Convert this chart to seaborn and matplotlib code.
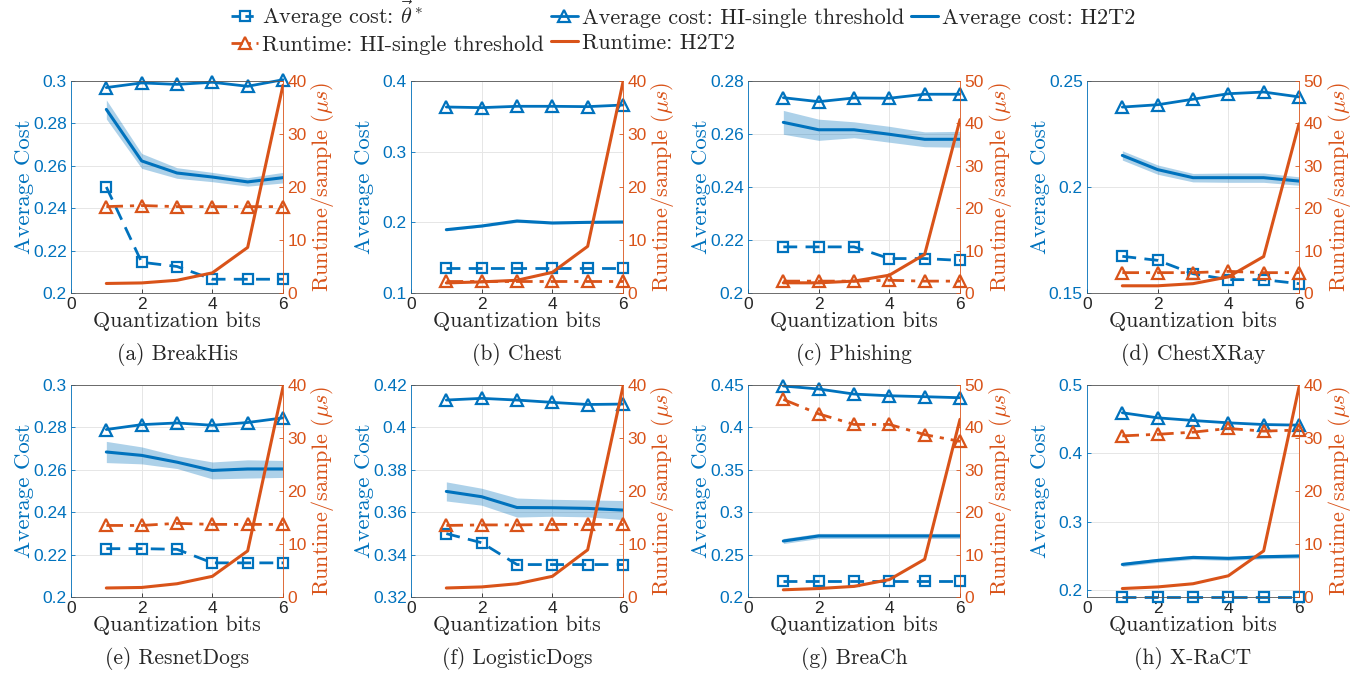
import matplotlib
matplotlib.use('Agg')
import matplotlib.pyplot as plt
import seaborn as sns
import numpy as np
from matplotlib.lines import Line2D
from matplotlib.ticker import FuncFormatter

# Quantization bits on the x axis
bits = [1, 2, 3, 4, 5, 6]

captions = ['(a) BreakHis', '(b) Chest', '(c) Phishing', '(d) ChestXRay',
            '(e) ResnetDogs', '(f) LogisticDogs', '(g) BreaCh', '(h) X-RaCT']

# Average cost with theta* (dashed, squares)
theta_cost = [
    [0.250, 0.2145, 0.2125, 0.2065, 0.2065, 0.2065],
    [0.136, 0.136, 0.136, 0.136, 0.136, 0.136],
    [0.2174, 0.2174, 0.2174, 0.213, 0.213, 0.2123],
    [0.1673, 0.1654, 0.1591, 0.1563, 0.1563, 0.1544],
    [0.2228, 0.2228, 0.2225, 0.2161, 0.2161, 0.2161],
    [0.3499, 0.3456, 0.3353, 0.3353, 0.3353, 0.3353],
    [0.2194, 0.2194, 0.2194, 0.2194, 0.2194, 0.2194],
    [0.1895, 0.1895, 0.1895, 0.1895, 0.1895, 0.1895],
]

# Average cost, HI-single threshold (solid, triangles)
hi_cost = [
    [0.2969, 0.2991, 0.2984, 0.2994, 0.2975, 0.3006],
    [0.3632, 0.3623, 0.3642, 0.3642, 0.3637, 0.366],
    [0.2737, 0.2722, 0.2736, 0.2735, 0.275, 0.275],
    [0.2377, 0.2388, 0.2414, 0.244, 0.2448, 0.2425],
    [0.279, 0.2813, 0.2821, 0.281, 0.2823, 0.2845],
    [0.4129, 0.4137, 0.4129, 0.4118, 0.4108, 0.411],
    [0.4488, 0.4453, 0.4393, 0.4373, 0.4362, 0.435],
    [0.4594, 0.452, 0.4481, 0.4447, 0.4422, 0.4413],
]

# Average cost, H2T2 (solid) and half-width of its shaded band
h2t2_cost = [
    [0.2866, 0.2623, 0.2566, 0.2547, 0.2524, 0.2544],
    [0.1896, 0.1948, 0.2019, 0.1991, 0.2000, 0.2005],
    [0.2644, 0.2616, 0.2616, 0.2599, 0.2580, 0.2580],
    [0.2149, 0.2082, 0.2044, 0.2044, 0.2044, 0.2028],
    [0.2684, 0.2668, 0.2636, 0.2597, 0.2604, 0.2604],
    [0.3698, 0.3673, 0.3622, 0.3621, 0.3618, 0.3610],
    [0.2660, 0.2720, 0.2720, 0.2720, 0.2720, 0.2720],
    [0.2376, 0.2435, 0.2479, 0.2465, 0.2489, 0.2499],
]
h2t2_band = [
    [0.0045, 0.0035, 0.0025, 0.0022, 0.0020, 0.0025],
    [0.0015, 0.0015, 0.0020, 0.0015, 0.0015, 0.0020],
    [0.0045, 0.0040, 0.0030, 0.0030, 0.0028, 0.0030],
    [0.0022, 0.0022, 0.0020, 0.0022, 0.0022, 0.0020],
    [0.0050, 0.0040, 0.0030, 0.0040, 0.0043, 0.0040],
    [0.0045, 0.0040, 0.0045, 0.0040, 0.0040, 0.0045],
    [0.0030, 0.0030, 0.0030, 0.0030, 0.0030, 0.0030],
    [0.0030, 0.0030, 0.0030, 0.0030, 0.0030, 0.0030],
]

# Runtime per sample (micro-seconds), right axis
hi_runtime = [
    [16.3, 16.5, 16.3, 16.3, 16.3, 16.3],
    [2.2, 2.2, 2.2, 2.2, 2.2, 2.2],
    [2.8, 2.8, 2.8, 3.0, 2.8, 2.8],
    [4.8, 4.8, 4.8, 5.1, 4.8, 4.8],
    [13.5, 13.5, 13.9, 13.7, 13.7, 13.7],
    [13.5, 13.6, 13.6, 13.7, 13.7, 13.7],
    [46.6, 43.2, 40.7, 40.7, 38.3, 36.7],
    [30.4, 30.7, 31.1, 31.8, 31.3, 31.5],
]
h2t2_runtime = [
    [1.8, 1.9, 2.4, 3.8, 8.6, 39.2],
    [1.9, 2.1, 2.4, 3.9, 8.8, 39.8],
    [2.4, 2.4, 2.8, 4.2, 9.1, 40.9],
    [1.7, 1.7, 2.2, 3.8, 8.6, 39.9],
    [1.7, 1.8, 2.5, 3.9, 8.7, 39.6],
    [1.7, 1.9, 2.5, 3.9, 8.9, 39.7],
    [1.7, 2.0, 2.5, 4.1, 8.9, 41.9],
    [1.6, 1.9, 2.5, 4.0, 8.7, 39.6],
]

# Axis ranges
cost_ylim = [(0.2, 0.3), (0.1, 0.4), (0.2, 0.28), (0.15, 0.25),
             (0.2, 0.3), (0.32, 0.42), (0.2, 0.45), (0.19, 0.5)]
cost_ticks = [[0.2, 0.22, 0.24, 0.26, 0.28, 0.3],
              [0.1, 0.2, 0.3, 0.4],
              [0.2, 0.22, 0.24, 0.26, 0.28],
              [0.15, 0.2, 0.25],
              [0.2, 0.22, 0.24, 0.26, 0.28, 0.3],
              [0.32, 0.34, 0.36, 0.38, 0.4, 0.42],
              [0.2, 0.25, 0.3, 0.35, 0.4, 0.45],
              [0.2, 0.3, 0.4, 0.5]]
runtime_max = [40, 40, 50, 50, 40, 40, 50, 40]

BLUE = '#0072BD'
ORANGE = '#D95319'
TICKFONT = 'Liberation Sans'

sns.set_theme(style='white')
plt.rcParams['font.family'] = ['cmr10', 'DejaVu Serif']
plt.rcParams['mathtext.fontset'] = 'cm'
plt.rcParams['axes.unicode_minus'] = False

W, H = 1367, 677
fig = plt.figure(figsize=(W / 100, H / 100), dpi=100)
lefts = [71, 411, 748, 1087]
tops = [81, 385]
size = 212

fmt = FuncFormatter(lambda v, p: '%g' % round(v, 4))

for i in range(8):
    r, c = divmod(i, 4)
    ax = fig.add_axes([lefts[c] / W, 1 - (tops[r] + size) / H, size / W, size / H])

    lo = np.array(h2t2_cost[i]) - np.array(h2t2_band[i])
    hi = np.array(h2t2_cost[i]) + np.array(h2t2_band[i])
    ax.fill_between(bits, lo, hi, color=BLUE, alpha=0.32, linewidth=0)
    sns.lineplot(x=bits, y=h2t2_cost[i], ax=ax, color=BLUE, linewidth=2.2)
    sns.lineplot(x=bits, y=hi_cost[i], ax=ax, color=BLUE, linewidth=2,
                 marker='^', markersize=8, markerfacecolor='none',
                 markeredgecolor=BLUE, markeredgewidth=1.6, clip_on=False)
    sns.lineplot(x=bits, y=theta_cost[i], ax=ax, color=BLUE, linewidth=2,
                 linestyle=(0, (5, 3)), marker='s', markersize=6.5,
                 markerfacecolor='none', markeredgecolor=BLUE,
                 markeredgewidth=1.6, clip_on=False)

    ax.set_xlim(0, 6)
    ax.set_xticks([0, 2, 4, 6])
    ax.set_ylim(*cost_ylim[i])
    ax.set_yticks(cost_ticks[i])
    ax.yaxis.set_major_formatter(fmt)
    ax.grid(True, color='#e6e6e6', linewidth=0.7)
    ax.set_axisbelow(True)
    ax.tick_params(axis='x', bottom=True, direction='in', length=3, width=0.6,
                   labelsize=12.5, labelcolor='#262626', labelfontfamily=TICKFONT, pad=3)
    ax.tick_params(axis='y', left=True, direction='in', length=3, width=0.6,
                   color=BLUE, labelsize=12.5, labelcolor=BLUE,
                   labelfontfamily=TICKFONT, pad=3)
    ax.spines['left'].set_color(BLUE)
    ax.spines['right'].set_visible(False)
    for s in ['top', 'bottom']:
        ax.spines[s].set_color('#555555')
    for s in ax.spines.values():
        s.set_linewidth(0.6)

    ax.set_xlabel('Quantization bits', fontsize=15.8, color='#262626')
    ax.xaxis.set_label_coords(0.5, -0.088)
    ax.set_ylabel('Average Cost', fontsize=16.5, color=BLUE)
    ax.yaxis.set_label_coords(-0.175, 0.5)
    ax.text(0.5, -0.235, captions[i], transform=ax.transAxes, ha='center',
            va='top', fontsize=15.5, color='#262626')

    ax2 = ax.twinx()
    sns.lineplot(x=bits, y=hi_runtime[i], ax=ax2, color=ORANGE, linewidth=2,
                 linestyle=(0, (6, 2.5, 1.5, 2.5)), marker='^', markersize=8,
                 markerfacecolor='none', markeredgecolor=ORANGE,
                 markeredgewidth=1.6, clip_on=False)
    sns.lineplot(x=bits, y=h2t2_runtime[i], ax=ax2, color=ORANGE, linewidth=2.2)
    ax2.set_ylim(0, runtime_max[i])
    ax2.set_yticks(list(range(0, runtime_max[i] + 1, 10)))
    ax2.tick_params(axis='y', right=True, direction='in', length=3, width=0.6,
                    color=ORANGE, labelsize=12.5, labelcolor=ORANGE,
                    labelfontfamily=TICKFONT, pad=3)
    for s in ['left', 'top', 'bottom']:
        ax2.spines[s].set_visible(False)
    ax2.spines['right'].set_color(ORANGE)
    ax2.spines['right'].set_linewidth(0.6)
    ax2.set_ylabel(r'Runtime/sample ($\mu s$)', fontsize=16, color=ORANGE)
    ax2.yaxis.set_label_coords(1.125, 0.5)

# Legend at top, filled column-wise to match the two-row layout
handles = [
    Line2D([], [], color=BLUE, lw=2, ls=(0, (3, 2)), marker='s', ms=6.5,
           mfc='none', mec=BLUE, mew=1.6),
    Line2D([], [], color=ORANGE, lw=2, ls=(0, (4, 2, 1, 2)), marker='^', ms=8,
           mfc='none', mec=ORANGE, mew=1.6),
    Line2D([], [], color=BLUE, lw=2, marker='^', ms=8, mfc='none', mec=BLUE, mew=1.6),
    Line2D([], [], color=ORANGE, lw=2.2),
    Line2D([], [], color=BLUE, lw=2.2),
]
labels = [r'Average cost: $\vec{\theta}^*$', 'Runtime: HI-single threshold',
          'Average cost: HI-single threshold', 'Runtime: H2T2',
          'Average cost: H2T2']
fig.legend(handles, labels, loc='upper center', bbox_to_anchor=(0.5, 1.025),
           ncol=3, frameon=False, fontsize=16, handlelength=1.2,
           handletextpad=0.2, columnspacing=0.3, labelspacing=0.25,
           borderpad=0.2)

fig.savefig('out.png', dpi=100)
